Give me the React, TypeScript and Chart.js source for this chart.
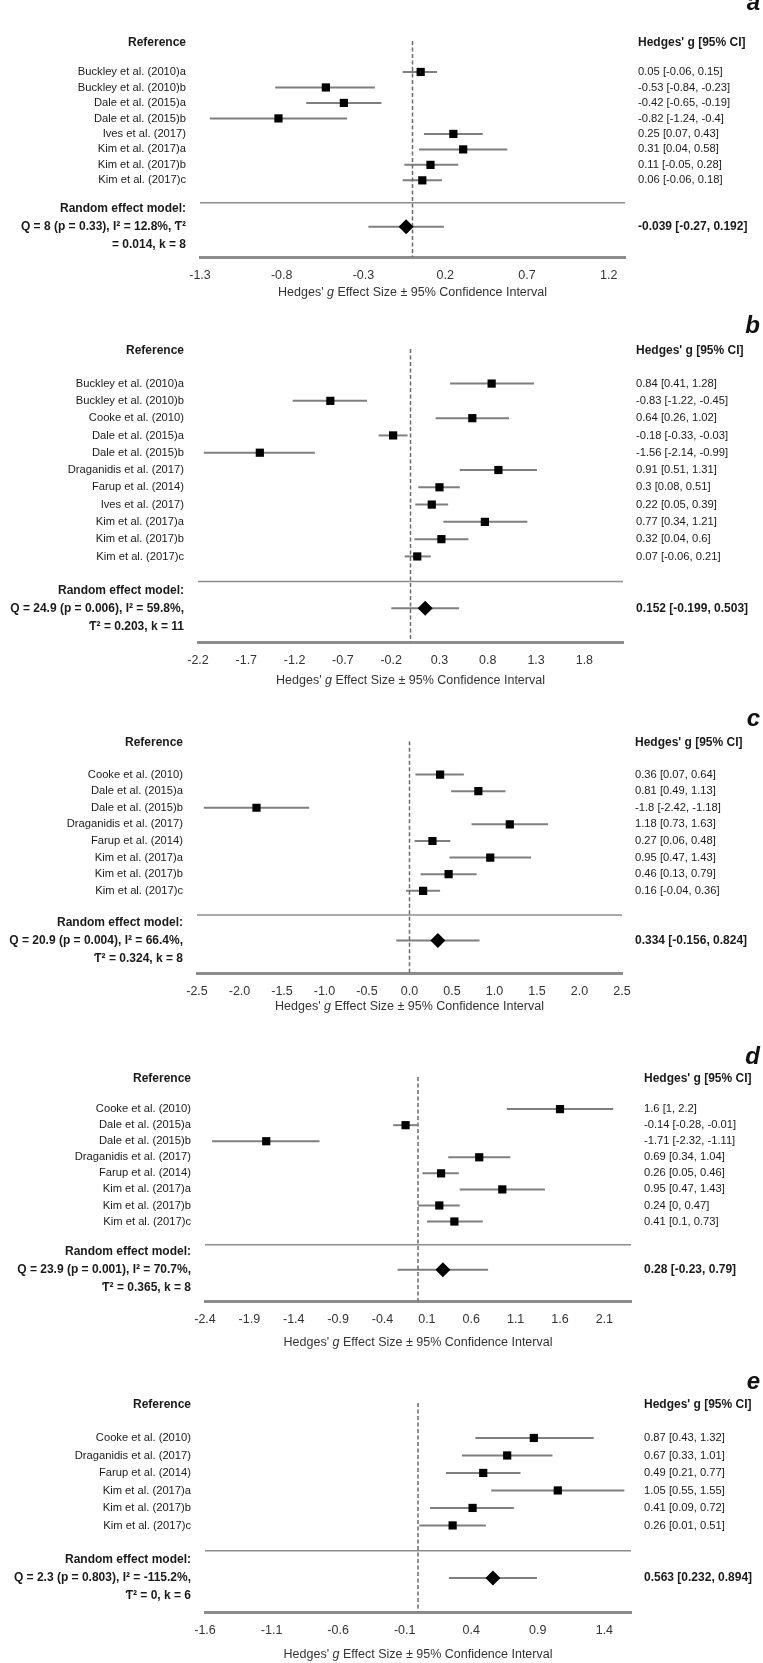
import React, { useEffect, useRef } from "react";
import { Chart, registerables } from "chart.js";

Chart.register(...registerables);

// ---------------- DATA ----------------
const aStudies = ["Buckley et al. (2010)a", "Buckley et al. (2010)b", "Dale et al. (2015)a", "Dale et al. (2015)b", "Ives et al. (2017)", "Kim et al. (2017)a", "Kim et al. (2017)b", "Kim et al. (2017)c"];
const aG = [0.05, -0.53, -0.42, -0.82, 0.25, 0.31, 0.11, 0.06];
const aLo = [-0.06, -0.84, -0.65, -1.24, 0.07, 0.04, -0.05, -0.06];
const aHi = [0.15, -0.23, -0.19, -0.4, 0.43, 0.58, 0.28, 0.18];
const aModel = [-0.039, -0.27, 0.192];
const aModelText = ["Random effect model:", "Q = 8 (p = 0.33), I² = 12.8%, Ƭ²", "= 0.014, k = 8"];
const aTicks = ["-1.3", "-0.8", "-0.3", "0.2", "0.7", "1.2"];
const aLimits = [-1.3, 1.3];

const bStudies = ["Buckley et al. (2010)a", "Buckley et al. (2010)b", "Cooke et al. (2010)", "Dale et al. (2015)a", "Dale et al. (2015)b", "Draganidis et al. (2017)", "Farup et al. (2014)", "Ives et al. (2017)", "Kim et al. (2017)a", "Kim et al. (2017)b", "Kim et al. (2017)c"];
const bG = [0.84, -0.83, 0.64, -0.18, -1.56, 0.91, 0.3, 0.22, 0.77, 0.32, 0.07];
const bLo = [0.41, -1.22, 0.26, -0.33, -2.14, 0.51, 0.08, 0.05, 0.34, 0.04, -0.06];
const bHi = [1.28, -0.45, 1.02, -0.03, -0.99, 1.31, 0.51, 0.39, 1.21, 0.6, 0.21];
const bModel = [0.152, -0.199, 0.503];
const bModelText = ["Random effect model:", "Q = 24.9 (p = 0.006), I² = 59.8%,", "Ƭ² = 0.203, k = 11"];
const bTicks = ["-2.2", "-1.7", "-1.2", "-0.7", "-0.2", "0.3", "0.8", "1.3", "1.8"];
const bLimits = [-2.2, 2.2];

const cStudies = ["Cooke et al. (2010)", "Dale et al. (2015)a", "Dale et al. (2015)b", "Draganidis et al. (2017)", "Farup et al. (2014)", "Kim et al. (2017)a", "Kim et al. (2017)b", "Kim et al. (2017)c"];
const cG = [0.36, 0.81, -1.8, 1.18, 0.27, 0.95, 0.46, 0.16];
const cLo = [0.07, 0.49, -2.42, 0.73, 0.06, 0.47, 0.13, -0.04];
const cHi = [0.64, 1.13, -1.18, 1.63, 0.48, 1.43, 0.79, 0.36];
const cModel = [0.334, -0.156, 0.824];
const cModelText = ["Random effect model:", "Q = 20.9 (p = 0.004), I² = 66.4%,", "Ƭ² = 0.324, k = 8"];
const cTicks = ["-2.5", "-2.0", "-1.5", "-1.0", "-0.5", "0.0", "0.5", "1.0", "1.5", "2.0", "2.5"];
const cLimits = [-2.5, 2.5];

const dStudies = ["Cooke et al. (2010)", "Dale et al. (2015)a", "Dale et al. (2015)b", "Draganidis et al. (2017)", "Farup et al. (2014)", "Kim et al. (2017)a", "Kim et al. (2017)b", "Kim et al. (2017)c"];
const dG = [1.6, -0.14, -1.71, 0.69, 0.26, 0.95, 0.24, 0.41];
const dLo = [1, -0.28, -2.32, 0.34, 0.05, 0.47, 0, 0.1];
const dHi = [2.2, -0.01, -1.11, 1.04, 0.46, 1.43, 0.47, 0.73];
const dModel = [0.28, -0.23, 0.79];
const dModelText = ["Random effect model:", "Q = 23.9 (p = 0.001), I² = 70.7%,", "Ƭ² = 0.365, k = 8"];
const dTicks = ["-2.4", "-1.9", "-1.4", "-0.9", "-0.4", "0.1", "0.6", "1.1", "1.6", "2.1"];
const dLimits = [-2.4, 2.4];

const eStudies = ["Cooke et al. (2010)", "Draganidis et al. (2017)", "Farup et al. (2014)", "Kim et al. (2017)a", "Kim et al. (2017)b", "Kim et al. (2017)c"];
const eG = [0.87, 0.67, 0.49, 1.05, 0.41, 0.26];
const eLo = [0.43, 0.33, 0.21, 0.55, 0.09, 0.01];
const eHi = [1.32, 1.01, 0.77, 1.55, 0.72, 0.51];
const eModel = [0.563, 0.232, 0.894];
const eModelText = ["Random effect model:", "Q = 2.3 (p = 0.803), I² = -115.2%,", "Ƭ² = 0, k = 6"];
const eTicks = ["-1.6", "-1.1", "-0.6", "-0.1", "0.4", "0.9", "1.4"];
const eLimits = [-1.6, 1.6];

const panelLetters = ["a", "b", "c", "d", "e"];
const leftHeader = "Reference";
const rightHeader = "Hedges' g [95% CI]";
const axisTitleParts = ["Hedges' ", "g", " Effect Size ± 95% Confidence Interval"];

// ---------------- LAYOUT (page pixels) ----------------
const LAYOUT = [
  { top: 0, height: 308, headerY: 27, bottomY: 257, left: 200, right: 625, letterY: 3, titleY: 293 },
  { top: 308, height: 390, headerY: 349, bottomY: 642, left: 198, right: 623, letterY: 326, titleY: 681 },
  { top: 698, height: 338, headerY: 743, bottomY: 973, left: 197, right: 622, letterY: 719, titleY: 1007 },
  { top: 1036, height: 326, headerY: 1078, bottomY: 1301, left: 205, right: 631, letterY: 1057, titleY: 1343 },
  { top: 1362, height: 301, headerY: 1403, bottomY: 1612, left: 205, right: 631, letterY: 1382, titleY: 1655 },
];
const W = 763;
const HEAD = -1.9; // header row in row units
const SEP_GAP = 1.45; // separator below last study
const MODEL_GAP = 3.0; // model row below last study
const BOTTOM_GAP = 4.95; // axis line below last study

const FONT = "'Liberation Sans', Arial, sans-serif";
const BAR = "#7f7f7f";

const PANELS = [
  { studies: aStudies, g: aG, lo: aLo, hi: aHi, model: aModel, modelText: aModelText, ticks: aTicks, limits: aLimits },
  { studies: bStudies, g: bG, lo: bLo, hi: bHi, model: bModel, modelText: bModelText, ticks: bTicks, limits: bLimits },
  { studies: cStudies, g: cG, lo: cLo, hi: cHi, model: cModel, modelText: cModelText, ticks: cTicks, limits: cLimits },
  { studies: dStudies, g: dG, lo: dLo, hi: dHi, model: dModel, modelText: dModelText, ticks: dTicks, limits: dLimits },
  { studies: eStudies, g: eG, lo: eLo, hi: eHi, model: eModel, modelText: eModelText, ticks: eTicks, limits: eLimits },
];

const fmt = (g: number, lo: number, hi: number) => `${g} [${lo}, ${hi}]`;

const panelTextPlugin = {
  id: "panelText",
  afterDraw(chart: any, _args: any, opts: any) {
    const { ctx, chartArea } = chart;
    ctx.save();
    ctx.fillStyle = "#111";
    ctx.font = `italic bold 24px ${FONT}`;
    ctx.textAlign = "right";
    ctx.textBaseline = "middle";
    ctx.fillText(opts.letter, W - 3, opts.letterY);
    // axis title with italic g
    const fonts = [`12.5px ${FONT}`, `italic 12.5px ${FONT}`, `12.5px ${FONT}`];
    let total = 0;
    const widths = axisTitleParts.map((t, i) => {
      ctx.font = fonts[i];
      const w = ctx.measureText(t).width;
      total += w;
      return w;
    });
    let x = (chartArea.left + chartArea.right) / 2 - total / 2;
    ctx.textAlign = "left";
    ctx.fillStyle = "#333";
    axisTitleParts.forEach((t, i) => {
      ctx.font = fonts[i];
      ctx.fillText(t, x, opts.titleY);
      x += widths[i];
    });
    ctx.restore();
  },
};

function buildConfig(p: any, L: any, idx: number) {
  const n = p.studies.length;
  const last = n - 1;
  const sepRow = last + SEP_GAP;
  const modelRow = last + MODEL_GAP;
  const yMin = HEAD - 0.1;
  const yMax = last + BOTTOM_GAP;
  const s = (L.bottomY - L.headerY) / (yMax - HEAD);
  const chartTop = L.headerY - 0.1 * s;
  const [xMin, xMax] = p.limits;
  const rowTicks = [HEAD, ...p.studies.map((_: any, i: number) => i), modelRow];
  const leftLabels = [leftHeader, ...p.studies, p.modelText];
  const rightLabels = [rightHeader, ...p.g.map((g: number, i: number) => fmt(g, p.lo[i], p.hi[i])), fmt(p.model[0], p.model[1], p.model[2])];
  const lastTick = rowTicks.length - 1;
  const tickFont = (ctx: any) => {
    const bold = ctx.index === 0 || ctx.index === lastTick;
    return { family: FONT, size: bold ? 12 : 11.2, weight: bold ? "bold" : "normal", lineHeight: "18px" };
  };

  const datasets: any[] = [];
  // squares
  datasets.push({
    data: p.g.map((g: number, i: number) => ({ x: g, y: i })),
    pointStyle: "rect",
    pointRadius: 5.8,
    pointBackgroundColor: "#000",
    pointBorderWidth: 0,
    showLine: false,
    order: 0,
  });
  // diamond
  datasets.push({
    data: [{ x: p.model[0], y: modelRow }],
    pointStyle: "rectRot",
    pointRadius: 7.5,
    pointBackgroundColor: "#000",
    pointBorderWidth: 0,
    showLine: false,
    order: 0,
  });
  // CI lines
  p.g.forEach((_: number, i: number) => {
    datasets.push({
      data: [{ x: p.lo[i], y: i }, { x: p.hi[i], y: i }],
      showLine: true,
      borderColor: BAR,
      borderWidth: 2,
      pointRadius: 0,
      order: 1,
    });
  });
  datasets.push({
    data: [{ x: p.model[1], y: modelRow }, { x: p.model[2], y: modelRow }],
    showLine: true,
    borderColor: BAR,
    borderWidth: 2,
    pointRadius: 0,
    order: 1,
  });
  // separator
  datasets.push({
    data: [{ x: xMin, y: sepRow }, { x: xMax, y: sepRow }],
    showLine: true,
    borderColor: "#8c8c8c",
    borderWidth: 1.5,
    pointRadius: 0,
    order: 2,
  });
  // dashed zero line
  datasets.push({
    data: [{ x: 0, y: yMin }, { x: 0, y: yMax }],
    showLine: true,
    borderColor: "#6a6a6a",
    borderWidth: 1.5,
    borderDash: [4, 2.5],
    pointRadius: 0,
    order: 0,
  });

  return {
    type: "scatter",
    data: { datasets },
    plugins: [panelTextPlugin],
    options: {
      animation: false,
      responsive: false,
      devicePixelRatio: 1,
      layout: { padding: { top: chartTop - L.top, left: 0, right: 0, bottom: 0 } },
      plugins: {
        legend: { display: false },
        tooltip: { enabled: false },
        panelText: { letter: panelLetters[idx], letterY: L.letterY - L.top, titleY: L.titleY - L.top },
      },
      scales: {
        x: {
          type: "linear",
          min: xMin,
          max: xMax,
          grid: { display: false, drawTicks: false },
          border: { display: true, color: "#8c8c8c", width: 3 },
          afterBuildTicks: (scale: any) => {
            scale.ticks = p.ticks.map((t: string) => ({ value: parseFloat(t) }));
          },
          afterFit: (scale: any) => {
            scale.height = L.top + L.height - L.bottomY;
          },
          ticks: {
            autoSkip: false,
            maxRotation: 0,
            padding: 11,
            color: "#333",
            font: { family: FONT, size: 12.5 },
            callback: (_v: any, i: number) => p.ticks[i],
          },
        },
        y: {
          type: "linear",
          position: "left",
          reverse: true,
          min: yMin,
          max: yMax,
          grid: { display: false, drawTicks: false },
          border: { display: false },
          afterBuildTicks: (scale: any) => {
            scale.ticks = rowTicks.map((v) => ({ value: v }));
          },
          afterFit: (scale: any) => {
            scale.width = L.left;
          },
          ticks: {
            autoSkip: false,
            padding: 14,
            color: "#1a1a1a",
            font: tickFont,
            callback: (_v: any, i: number) => leftLabels[i],
          },
        },
        y2: {
          type: "linear",
          position: "right",
          reverse: true,
          min: yMin,
          max: yMax,
          grid: { display: false, drawTicks: false },
          border: { display: false },
          afterBuildTicks: (scale: any) => {
            scale.ticks = rowTicks.map((v) => ({ value: v }));
          },
          afterFit: (scale: any) => {
            scale.width = W - L.right;
          },
          ticks: {
            autoSkip: false,
            padding: 13,
            color: "#1a1a1a",
            font: tickFont,
            callback: (_v: any, i: number) => rightLabels[i],
          },
        },
      },
    },
  };
}

export default function App() {
  const refs = useRef<(HTMLCanvasElement | null)[]>([]);
  useEffect(() => {
    const charts = PANELS.map((p, i) => new Chart(refs.current[i] as HTMLCanvasElement, buildConfig(p, LAYOUT[i], i) as any));
    return () => charts.forEach((c) => c.destroy());
  }, []);
  return (
    <div style={{ position: "absolute", left: 0, top: 0, width: W, height: 1663, background: "#fff", overflow: "hidden" }}>
      {LAYOUT.map((L, i) => (
        <canvas
          key={i}
          ref={(el) => {
            refs.current[i] = el;
          }}
          width={W}
          height={L.height}
          style={{ position: "absolute", left: 0, top: L.top, width: W, height: L.height }}
        />
      ))}
    </div>
  );
}
